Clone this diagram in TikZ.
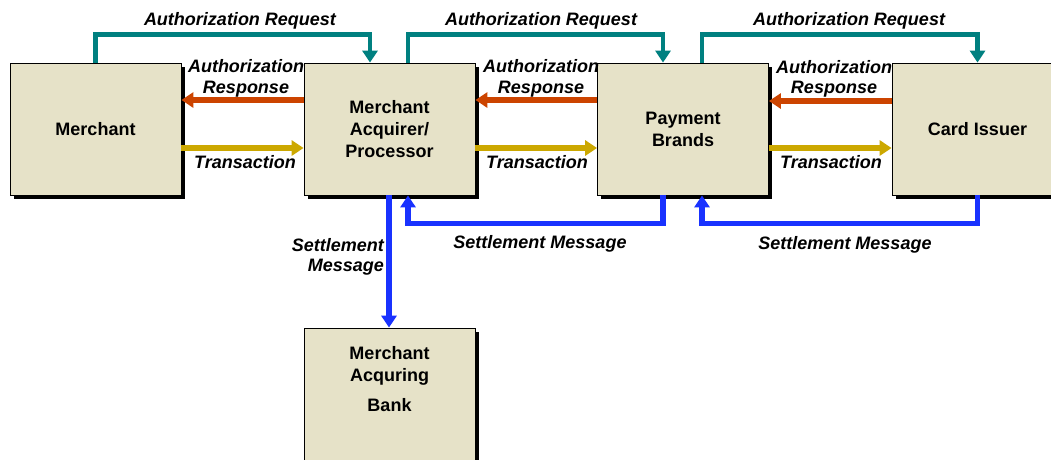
\documentclass[tikz,border=0pt]{standalone}
\usepackage{fontspec}
\setmainfont{Liberation Sans}
\usetikzlibrary{arrows.meta}

\definecolor{boxfill}{RGB}{230,226,200}
\definecolor{reqcol}{RGB}{0,128,128}
\definecolor{respcol}{RGB}{204,68,0}
\definecolor{txncol}{RGB}{204,168,0}
\definecolor{setcol}{RGB}{25,50,255}

\begin{document}
\begin{tikzpicture}[x=1pt,y=-1pt,
  party/.style={rectangle,draw=black,line width=0.8pt,fill=boxfill,
    minimum width=171pt,minimum height=132pt,inner sep=0pt,align=center,
    font=\fontsize{18}{22}\selectfont\bfseries},
  boxshadow/.style={fill=black,minimum width=171pt,minimum height=132pt,
    inner sep=0pt,rectangle},
  flowlabel/.style={inner sep=0pt,align=center,
    font=\fontsize{18}{20.5}\selectfont\bfseries\itshape},
  tip/.style={-{Triangle[width=15pt,length=12pt]}},
  req/.style={tip,draw=reqcol,line width=4.5pt},
  resp/.style={tip,draw=respcol,line width=5.5pt},
  txn/.style={tip,draw=txncol,line width=5.5pt},
  settle/.style={tip,draw=setcol,line width=5.5pt}]

  \useasboundingbox (0,0) rectangle (1051,459);
  \clip (0,0) rectangle (1051,459);
  \fill[white] (0,0) rectangle (1051,459);

  % drop shadows, offset down and right of each box
  \foreach \sx/\sy [count=\i] in {95.5/129,389.5/129,683/129,977.5/129,389.5/394}
    \node[boxshadow] (shadow\i) at (\sx+3.5,\sy+3.5) {};

  % parties
  \node[party] (merchant) at (95.5,129) {Merchant};
  \node[party] (acq) at (389.5,129) {Merchant\\Acquirer/\\Processor};
  \node[party] (pay) at (683,129) {Payment\\Brands};
  \node[party] (issuer) at (977.5,129) {Card Issuer};
  \node[party] (bank) at (389.5,394) {};
  \node[inner sep=0pt,align=center,font=\fontsize{18}{22}\selectfont\bfseries]
    (banktext) at (389.5,379) {Merchant\\Acquring\\[8pt]Bank};

  % authorization requests
  \draw[req] (merchant.north) -- ++(0,-28) -| ([xshift=-19.5pt]acq.north);
  \draw[req] ([xshift=18.5pt]acq.north) -- ++(0,-28) -| ([xshift=-20pt]pay.north);
  \draw[req] ([xshift=19pt]pay.north) -- ++(0,-28) -| (issuer.north);

  % authorization responses
  \draw[resp] ([yshift=29pt]acq.west) -- ([yshift=29pt]merchant.east);
  \draw[resp] ([yshift=29pt]pay.west) -- ([yshift=29pt]acq.east);
  \draw[resp] ([yshift=28pt]issuer.west) -- ([yshift=28pt]pay.east);

  % transactions
  \draw[txn] ([yshift=-19pt]merchant.east) -- ([yshift=-19pt]acq.west);
  \draw[txn] ([yshift=-19pt]acq.east) -- ([yshift=-19pt]pay.west);
  \draw[txn] ([yshift=-19pt]pay.east) -- ([yshift=-19pt]issuer.west);

  % settlement messages
  \draw[settle] ([xshift=-20pt]pay.south) -- ++(0,28) -| ([xshift=18.5pt]acq.south);
  \draw[settle] (issuer.south) -- ++(0,28) -| ([xshift=19pt]pay.south);
  \draw[settle] ([xshift=-0.5pt]acq.south) -- ([xshift=-0.5pt]bank.north);

  % labels
  \node[flowlabel,anchor=base] (rq1) at (240,25) {Authorization Request};
  \node[flowlabel,anchor=base] (rq2) at (541,25) {Authorization Request};
  \node[flowlabel,anchor=base] (rq3) at (849,25) {Authorization Request};
  \node[flowlabel] (rs1) at (246,78.5) {Authorization\\Response};
  \node[flowlabel] (rs2) at (541,78.5) {Authorization\\Response};
  \node[flowlabel] (rs3) at (834,79) {Authorization\\Response};
  \node[flowlabel,anchor=base] (tx1) at (245,168) {Transaction};
  \node[flowlabel,anchor=base] (tx2) at (537,168) {Transaction};
  \node[flowlabel,anchor=base] (tx3) at (831,168) {Transaction};
  \node[flowlabel,anchor=base] (sm1) at (540,248) {Settlement Message};
  \node[flowlabel,anchor=base] (sm2) at (845,249) {Settlement Message};
  \node[flowlabel,align=right,anchor=east] (sm3) at (384,257) {Settlement\\Message};
\end{tikzpicture}
\end{document}
